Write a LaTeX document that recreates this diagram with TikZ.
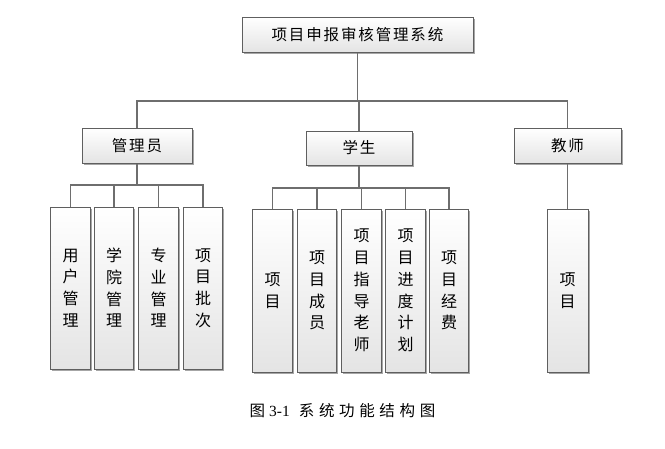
\documentclass[tikz,border=0pt]{standalone}
\usepackage{fontspec}
\setmainfont{Liberation Serif}
\newfontfamily\cjk{Noto Sans CJK SC}
\newfontfamily\cjkw[LetterSpace=12]{Noto Sans CJK SC}
\newfontfamily\cjkcap[LetterSpace=30]{Noto Sans CJK SC}
\usetikzlibrary{shadows}
\definecolor{boxline}{RGB}{95,95,95}
\definecolor{conn}{RGB}{110,110,110}
\definecolor{boxbot}{RGB}{228,228,228}
\tikzset{
  x=1pt, y=-1pt,
  box/.style={draw=boxline, line width=1pt, rectangle, inner sep=0pt,
    shading=axis, top color=white, bottom color=boxbot,
    drop shadow={shadow xshift=1.6pt, shadow yshift=-1.6pt, fill=black, opacity=0.35},
    font=\cjkw\fontsize{15.5}{18}\selectfont},
  hbox/.style={box, minimum height=35pt},
  vbox/.style={box, minimum width=39.5pt, minimum height=162pt, align=center,
    font=\cjk\fontsize{16}{21.7}\selectfont},
  link/.style={draw=conn, line width=1.3pt}
}
\begin{document}
\begin{tikzpicture}
\useasboundingbox (0,0) rectangle (665,448);
% top level
\node[hbox, minimum width=231pt] (root) at (357.5,34.5) {项目申报审核管理系统};
\node[hbox, minimum width=110pt] (adm) at (137,145.5) {管理员};
\node[hbox, minimum width=106pt, minimum height=34pt] (stu) at (359,148) {学生};
\node[hbox, minimum width=107pt] (tea) at (567.5,145.5) {教师};
% admin children
\node[vbox] (a1) at (70.5,288) {用\\户\\管\\理};
\node[vbox] (a2) at (114,288) {学\\院\\管\\理};
\node[vbox] (a3) at (158.5,288) {专\\业\\管\\理};
\node[vbox] (a4) at (203,288) {项\\目\\批\\次};
% student children
\node[vbox, minimum height=163pt] (s1) at (272.5,290.5) {项\\目};
\node[vbox, minimum height=163pt] (s2) at (317,290.5) {项\\目\\成\\员};
\node[vbox, minimum height=163pt] (s3) at (361.5,290.5) {项\\目\\指\\导\\老\\师};
\node[vbox, minimum height=163pt] (s4) at (405.5,290.5) {项\\目\\进\\度\\计\\划};
\node[vbox, minimum height=163pt] (s5) at (449,290.5) {项\\目\\经\\费};
% teacher child
\node[vbox, minimum height=163pt, minimum width=41pt] (t1) at (567.5,290.5) {项\\目};
% connectors
\coordinate (bus) at (357.5,101);
\draw[link] (root.south) -- (bus);
\draw[link] (bus) -| (adm.north);
\draw[link] (bus) -| (stu.north);
\draw[link] (bus) -| (tea.north);
\coordinate (abus) at (137,185);
\draw[link] (adm.south) -- (abus);
\foreach \c in {a1,a2,a3,a4} \draw[link] (abus) -| (\c.north);
\coordinate (sbus) at (359,188);
\draw[link] (stu.south) -- (sbus);
\foreach \c in {s1,s2,s3,s4,s5} \draw[link] (sbus) -| (\c.north);
\draw[link] (tea.south) -- (t1.north);
% caption
\node[font=\fontsize{15.5}{18}\selectfont] (cap) at (342.5,411) {{\cjk 图}\hspace{4pt}3-1\hspace{9pt}{\cjkcap 系统功能结构图}};
\end{tikzpicture}
\end{document}
